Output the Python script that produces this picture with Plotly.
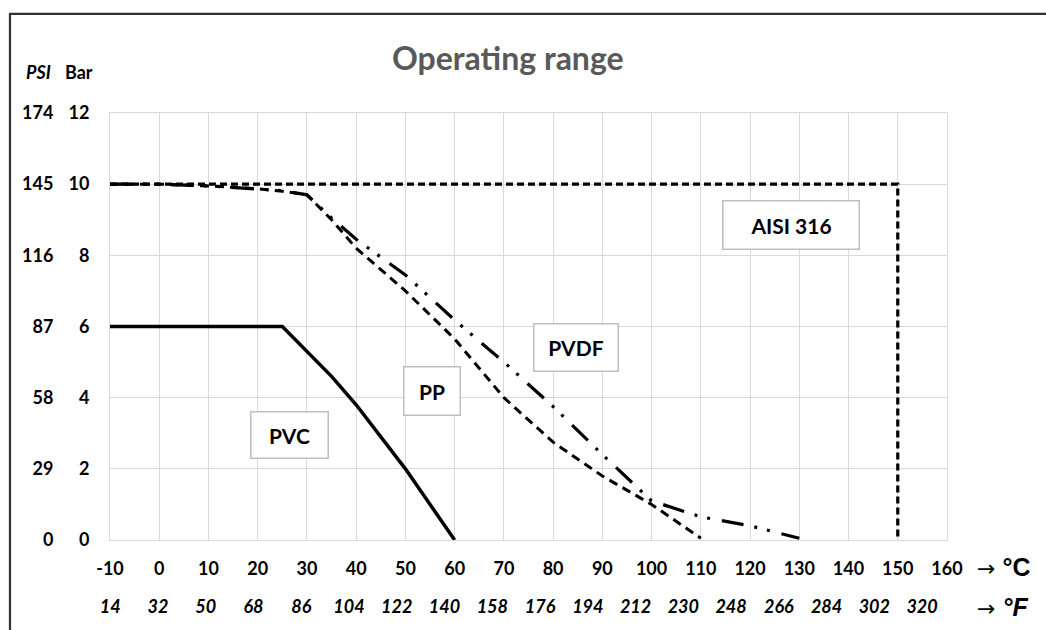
import plotly.graph_objects as go

# ---------------- data ----------------
pvc_t = [-10, 25, 35, 40, 50, 60]
pvc_bar = [6, 6, 4.6, 3.8, 2.0, 0]

pp_t = [-10, 0, 10, 20, 25, 30, 35, 40, 50, 60, 70, 80, 90, 100, 110]
pp_bar = [10, 10, 9.95, 9.87, 9.8, 9.7, 9.0, 8.2, 7.0, 5.65, 4.0, 2.75, 1.8, 1.0, 0.05]

pvdf_t = [-10, 0, 10, 20, 25, 30, 35, 40, 50, 60, 70, 80, 90, 100, 110, 120, 130]
pvdf_bar = [10, 10, 9.95, 9.87, 9.82, 9.7, 9.05, 8.45, 7.45, 6.18, 5.0, 3.75, 2.4, 1.1, 0.65, 0.4, 0.05]

aisi_t = [-10, 150, 150]
aisi_bar = [10, 10, 0]

celsius_ticks = list(range(-10, 161, 10))
fahrenheit_ticks = [14, 32, 50, 68, 86, 104, 122, 140, 158, 176, 194, 212, 230, 248, 266, 284, 302, 320]
bar_ticks = [0, 2, 4, 6, 8, 10, 12]
psi_ticks = [0, 29, 58, 87, 116, 145, 174]

labels = ["PVC", "PP", "PVDF", "AISI 316"]
# label placement (data coords) and box sizes (px)
label_pos = {"PVC": (26.4, 2.95, 76, 45), "PP": (55.4, 4.19, 55, 47),
             "PVDF": (84.6, 5.4, 83, 46), "AISI 316": (128.3, 8.86, 135, 47)}

FONT = "Lato"
fig = go.Figure()

fig.add_trace(go.Scatter(x=aisi_t, y=aisi_bar, mode="lines",
                         line=dict(color="black", width=3.2, dash="7px,4px")))
fig.add_trace(go.Scatter(x=pp_t, y=pp_bar, mode="lines",
                         line=dict(color="black", width=3, dash="9px,6px")))
fig.add_trace(go.Scatter(x=pvdf_t, y=pvdf_bar, mode="lines",
                         line=dict(color="black", width=3.2, dash="22px,11px,3px,10px,3px,12px")))
fig.add_trace(go.Scatter(x=pvc_t, y=pvc_bar, mode="lines",
                         line=dict(color="black", width=3.5)))
# secondary (°F / PSI) scales
fig.add_trace(go.Scatter(x=[], y=[], xaxis="x2", yaxis="y2", mode="lines"))

grid = "#d9d9d9"
tickfont = dict(family=FONT, size=18, color="black")

fig.update_layout(
    width=1046, height=630,
    margin=dict(l=110, r=99, t=113, b=90),
    paper_bgcolor="white", plot_bgcolor="white",
    showlegend=False, hovermode=False,
    font=dict(family=FONT),
    xaxis=dict(range=[-10, 160], tickvals=celsius_ticks,
               ticktext=[f"<b>{v}</b>" for v in celsius_ticks],
               showgrid=True, gridcolor=grid, gridwidth=1,
               zeroline=False, showline=True, linecolor=grid, mirror=True,
               ticks="outside", ticklen=12, tickcolor="rgba(0,0,0,0)",
               tickfont=tickfont),
    yaxis=dict(range=[0, 12], tickvals=bar_ticks,
               ticktext=[f"<b>{v}</b>" for v in bar_ticks],
               showgrid=True, gridcolor=grid, gridwidth=1,
               zeroline=False, showline=True, linecolor=grid, mirror=True,
               ticks="outside", ticklen=16, tickcolor="rgba(0,0,0,0)",
               tickfont=tickfont),
    xaxis2=dict(overlaying="x", side="bottom", anchor="y",
                range=[13.9, 329.4], tickvals=fahrenheit_ticks,
                ticktext=[f"<b><i>{v}</i></b>" for v in fahrenheit_ticks],
                showgrid=False, zeroline=False, showline=False,
                ticks="outside", ticklen=50, tickcolor="rgba(0,0,0,0)",
                tickfont=tickfont),
    yaxis2=dict(overlaying="y", side="left", anchor="x",
                range=[0, 174], tickvals=psi_ticks,
                ticktext=[f"<b>{v}</b>" for v in psi_ticks],
                showgrid=False, zeroline=False, showline=False,
                ticks="outside", ticklen=52, tickcolor="rgba(0,0,0,0)",
                tickfont=tickfont),
)

# outer frame
fig.add_shape(type="rect", xref="paper", yref="paper",
              x0=-0.1195, x1=1.13, y0=-0.25, y1=1.232,
              line=dict(color="#333333", width=2.2), layer="below")

def cap(text, px, py, size=18, family=FONT, color="black", xanchor="center"):
    fig.add_annotation(text=text, xref="paper", yref="paper",
                       x=(px - 110) / 837, y=(540 - py) / 427,
                       xanchor=xanchor, yanchor="middle", showarrow=False,
                       font=dict(family=family, size=size, color=color))

# title
cap("<b>Operating range</b>", 507.5, 57, size=32, color="#595959")
# axis captions
cap("<b><i>PSI</i></b>", 38, 72)
cap("<b>Bar</b>", 79, 72)
arrow = "<span style='font-family:DejaVu Sans;font-size:22px'>→</span> "
cap(arrow + "<b>°C</b>", 975, 567, size=25, family="Liberation Sans", xanchor="left")
cap(arrow + "<b><i>°F</i></b>", 975, 607, size=25, family="Liberation Sans", xanchor="left")

# material label boxes
for name in labels:
    lx, ly, w, h = label_pos[name]
    fig.add_annotation(text=f"<b>{name}</b>", x=lx, y=ly, xref="x", yref="y",
                       showarrow=False, width=w, height=h, borderpad=0,
                       bgcolor="white", bordercolor="#bfbfbf", borderwidth=1.5,
                       font=dict(family=FONT, size=21, color="black"))

fig.write_html("out.html", config={"displayModeBar": False},
               post_script="document.body.style.margin='0px';")
